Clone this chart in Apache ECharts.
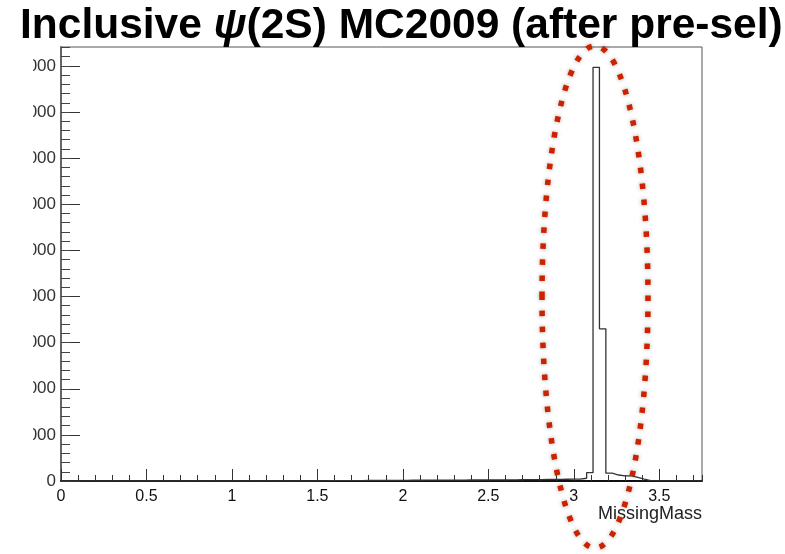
<!DOCTYPE html>
<html>
<head>
<meta charset="utf-8">
<script src="https://cdn.jsdelivr.net/npm/echarts@6/dist/echarts.min.js"></script>
<style>
html,body{margin:0;padding:0;background:#fff;}
#chart{width:785px;height:554px;}
</style>
</head>
<body>
<div id="chart"></div>
<script>
// Histogram: 100 bins from 0 to 3.75 (bin width 0.0375)
var xMin = 0;
var xMax = 3.75;
var binCount = 100;
var counts = [
  0,0,0,0,0,0,0,0,0,0,
  0,0,0,0,0,0,0,0,0,0,
  0,0,0,0,0,0,0,0,0,0,
  0,0,0,0,0,0,0,0,0,0,
  3,5,6,8,8,10,10,12,12,12,
  14,14,15,15,16,16,17,17,18,18,
  18,20,20,22,22,22,24,24,25,26,
  26,28,28,30,30,32,34,36,38,40,
  42,60,180,8970,3300,170,130,110,110,80,
  40,10,4,3,3,2,2,1,1,0
];
var xTicks = [0, 0.5, 1, 1.5, 2, 2.5, 3, 3.5];
var yTickStep = 1000;
var yMax = 9410;
var titleText = 'Inclusive ';
var titlePsi = 'ψ';
var titleRest = '(2S) MC2009 (after pre-sel)';
var xAxisName = 'MissingMass';

var binWidth = (xMax - xMin) / binCount;
var stepData = [];
for (var i = 0; i < counts.length; i++) {
  stepData.push([xMin + i * binWidth, counts[i]]);
}
stepData.push([xMax, 0]);

var chart = echarts.init(document.getElementById('chart'), null, {renderer: 'canvas'});
var gridLeft = 61, gridRight = 83, gridTop = 47, gridBottom = 73;
var font = 'Liberation Sans, Arial, Helvetica, sans-serif';

chart.setOption({
  animation: false,
  backgroundColor: '#fff',
  grid: {left: gridLeft, right: gridRight, top: gridTop, bottom: gridBottom,
         show: true, borderColor: '#555', borderWidth: 1, backgroundColor: 'transparent'},
  xAxis: [{
    type: 'value', min: xMin, max: xMax, interval: 0.5, position: 'bottom',
    axisLine: {show: true, onZero: false, lineStyle: {color: '#111', width: 2}},
    axisTick: {show: true, inside: true, length: 12, lineStyle: {color: '#333', width: 1}},
    axisLabel: {show: true, fontFamily: font, fontSize: 16, color: '#111', margin: 8,
                showMaxLabel: false,
                formatter: function (v) { return xTicks.indexOf(Math.round(v*100)/100) >= 0 ? String(v) : ''; }},
    splitLine: {show: false},
    name: xAxisName, nameLocation: 'end', nameGap: 0,
    nameTextStyle: {fontFamily: font, fontSize: 18, color: '#222', align: 'right',
                    verticalAlign: 'top', padding: [24, 0, 0, 0]}
  }, {
    type: 'value', min: xMin, max: xMax, interval: 0.1, position: 'bottom',
    axisLine: {show: false},
    axisTick: {show: true, inside: true, length: 6, lineStyle: {color: '#333', width: 1}},
    axisLabel: {show: false}, splitLine: {show: false}
  }],
  yAxis: [{
    type: 'value', min: 0, max: yMax, interval: yTickStep, position: 'left',
    axisLine: {show: true, onZero: false, lineStyle: {color: '#666', width: 2}},
    axisTick: {show: true, inside: true, length: 19, lineStyle: {color: '#333', width: 1}},
    axisLabel: {show: true, fontFamily: font, fontSize: 17, color: '#333', margin: 5,
                showMaxLabel: false},
    splitLine: {show: false}
  }, {
    type: 'value', min: 0, max: yMax, interval: 200, position: 'left',
    axisLine: {show: false},
    axisTick: {show: true, inside: true, length: 9, lineStyle: {color: '#444', width: 1}},
    axisLabel: {show: false}, splitLine: {show: false}
  }],
  series: [{
    type: 'line', xAxisIndex: 0, yAxisIndex: 0, step: 'end', data: stepData,
    showSymbol: false, symbol: 'none',
    lineStyle: {color: '#333', width: 1.3}, z: 3
  }],
  graphic: [
    {type: 'rect', z: 100, shape: {x: 0, y: 52, width: 33, height: 415},
     style: {fill: '#fff'}},
    {type: 'text', z: 100, x: 20, y: 5,
     style: {
       text: '{a|' + titleText + '}{b|' + titlePsi + '}{a|' + titleRest + '}',
       rich: {
         a: {fontFamily: font, fontWeight: 'bold', fontSize: 42.5, fill: '#000'},
         b: {fontFamily: font, fontWeight: 'bold', fontStyle: 'italic', fontSize: 42.5, fill: '#000'}
       }
     }},
    {type: 'ellipse', z: 110, shape: {cx: 595, cy: 297, rx: 53, ry: 251},
     style: {fill: 'none', stroke: '#cc2200', lineWidth: 5.5, lineDash: [5.5, 10.5],
             shadowBlur: 4, shadowColor: 'rgba(0,0,0,0.35)'}}
  ]
});
</script>
</body>
</html>
